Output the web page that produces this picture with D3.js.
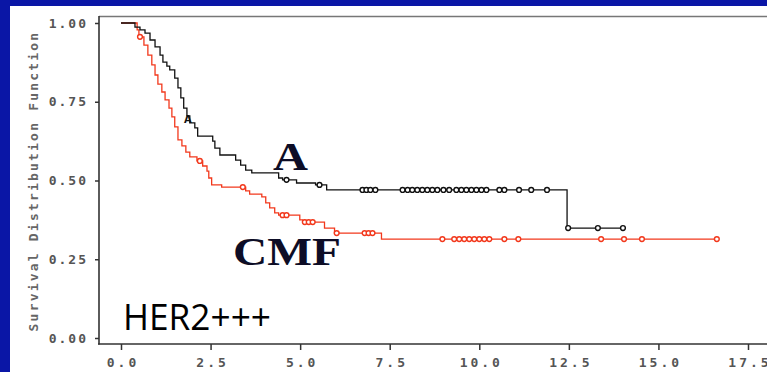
<!DOCTYPE html>
<html><head><meta charset="utf-8">
<script src="https://cdn.jsdelivr.net/npm/d3@7"></script>
<style>html,body{margin:0;padding:0;background:#fff;}svg{display:block;}</style>
</head><body>
<svg id="c" width="767" height="372"></svg>
<script>
// ---- data ----
const xTicks = [0, 2.5, 5, 7.5, 10, 12.5, 15, 17.5];
const xTickLabels = ["0.0","2.5","5.0","7.5","10.0","12.5","15.0","17.5"];
const yTicks = [0, 0.25, 0.5, 0.75, 1];
const yTickLabels = ["0.00","0.25","0.50","0.75","1.00"];

const aTimes = [0.39,0.53,0.67,0.81,0.95,1.09,1.17,1.28,1.36,1.50,1.59,1.67,1.75,1.84,1.92,2.06,2.14,2.56,2.62,2.76,3.20,3.34,3.48,3.65,4.40,4.51,4.90,5.43,5.74,12.45];
const aSurv  = [0.987,0.978,0.968,0.946,0.924,0.898,0.876,0.863,0.851,0.825,0.794,0.762,0.730,0.705,0.683,0.667,0.641,0.625,0.603,0.581,0.565,0.549,0.533,0.524,0.508,0.502,0.492,0.486,0.470,0.349];
const aEnd = 14.04;
const aCensor = [4.62,5.54,6.74,6.85,6.96,7.10,7.86,8.00,8.13,8.27,8.41,8.55,8.69,8.83,9.00,9.16,9.36,9.50,9.64,9.78,9.92,10.06,10.20,10.56,10.70,11.11,11.45,11.89,12.48,13.31,14.01];

const cTimes = [0.45,0.50,0.64,0.75,0.86,0.95,1.03,1.14,1.23,1.34,1.42,1.50,1.59,1.70,1.81,1.92,2.12,2.28,2.40,2.45,2.53,2.81,3.48,3.59,3.93,4.04,4.15,4.29,4.40,4.99,5.07,5.68,5.96,7.27];
const cSurv  = [0.978,0.956,0.930,0.898,0.867,0.835,0.806,0.781,0.756,0.730,0.702,0.670,0.629,0.610,0.590,0.575,0.562,0.546,0.530,0.508,0.486,0.479,0.467,0.457,0.448,0.429,0.413,0.397,0.390,0.375,0.368,0.349,0.333,0.314];
const cEnd = 16.63;
const cCensor = [0.53,2.20,3.40,4.51,4.62,5.13,5.24,5.35,6.02,6.80,6.91,7.02,8.97,9.30,9.44,9.58,9.72,9.86,10.00,10.14,10.28,10.70,11.09,13.40,14.04,14.54,16.63];

// ---- drawing ----
const svg = d3.select("#c");
const x = d3.scaleLinear().domain([0, 17.5]).range([121, 748]);
const y = d3.scaleLinear().domain([0, 1]).range([338, 23]);

// blue frame
svg.append("rect").attr("x",0).attr("y",0).attr("width",767).attr("height",6).attr("fill","#0a16a6");
svg.append("rect").attr("x",0).attr("y",0).attr("width",10).attr("height",372).attr("fill","#0a16a6");

// plot frame lines
const frame = svg.append("g").attr("stroke","#333").attr("stroke-width",1.6).attr("fill","none");
frame.append("line").attr("x1",99).attr("x2",767).attr("y1",16.5).attr("y2",16.5).attr("stroke","#777");
frame.append("line").attr("x1",99).attr("x2",99).attr("y1",16).attr("y2",344.5);
frame.append("line").attr("x1",98).attr("x2",767).attr("y1",344).attr("y2",344);

// axes
const yAxis = d3.axisLeft(y).tickValues(yTicks).tickSize(4).tickPadding(7)
  .tickFormat((d,i) => yTickLabels[i]);
const gy = svg.append("g").attr("transform","translate(99,0)").call(yAxis);
gy.select(".domain").remove();
gy.selectAll(".tick line").attr("stroke","#333").attr("stroke-width",1.5);
gy.selectAll(".tick text").attr("fill","#555").attr("font-family","DejaVu Sans Mono")
  .attr("font-size",13).attr("font-weight","bold").style("letter-spacing","2px");

const xAxis = d3.axisBottom(x).tickValues(xTicks).tickSize(6).tickPadding(8)
  .tickFormat((d,i) => xTickLabels[i]);
const gx = svg.append("g").attr("transform","translate(0,344)").call(xAxis);
gx.select(".domain").remove();
gx.selectAll(".tick line").attr("stroke","#333").attr("stroke-width",1.5);
gx.selectAll(".tick text").attr("fill","#555").attr("font-family","DejaVu Sans Mono")
  .attr("font-size",13).attr("font-weight","bold").attr("dx",1.5).style("letter-spacing","3px");

// y-axis title
svg.append("text").attr("transform","translate(38,181) rotate(-90)")
  .attr("text-anchor","middle").attr("fill","#666")
  .attr("font-family","DejaVu Sans Mono").attr("font-size",13).attr("font-weight","bold")
  .style("letter-spacing","2.2px")
  .text("Survival Distribution Function");

// step curves
function stepPoints(times, surv, end) {
  const pts = [[0,1]];
  times.forEach((t,i) => pts.push([t, surv[i]]));
  pts.push([end, surv[surv.length-1]]);
  return pts;
}
function survAt(times, surv, t) {
  let s = 1;
  for (let i = 0; i < times.length; i++) if (times[i] <= t) s = surv[i];
  return s;
}
const line = d3.line().x(d => x(d[0])).y(d => y(d[1])).curve(d3.curveStepAfter);

const series = [
  {times:cTimes, surv:cSurv, end:cEnd, censor:cCensor, color:"#f2381c"},
  {times:aTimes, surv:aSurv, end:aEnd, censor:aCensor, color:"#111"}
];
series.forEach(s => {
  svg.append("path").datum(stepPoints(s.times, s.surv, s.end))
    .attr("d", line).attr("fill","none").attr("stroke", s.color).attr("stroke-width",1.3);
  svg.append("g").selectAll("circle").data(s.censor).join("circle")
    .attr("cx", d => x(d)).attr("cy", d => y(survAt(s.times, s.surv, d)))
    .attr("r", 2.4).attr("fill","#fff").attr("stroke", s.color).attr("stroke-width",1.4);
});

// small SAS plot symbol on curve A
svg.append("text").attr("x", x(1.87)).attr("y", y(0.683)).attr("text-anchor","middle")
  .attr("font-family","DejaVu Sans").attr("font-size",10).attr("font-weight","bold").attr("fill","#111").text("A");

// labels
svg.append("text").attr("x",273).attr("y",170).attr("font-family","Liberation Serif")
  .attr("font-weight","bold").attr("font-size",40).attr("fill","#0d0d26")
  .attr("textLength",35).attr("lengthAdjust","spacingAndGlyphs").text("A");
svg.append("text").attr("x",233).attr("y",265).attr("font-family","Liberation Serif")
  .attr("font-weight","bold").attr("font-size",41).attr("fill","#0d0d26")
  .attr("textLength",108).attr("lengthAdjust","spacingAndGlyphs").text("CMF");
svg.append("text").attr("x",123).attr("y",330).attr("font-family","Open Sans")
  .attr("font-size",37).attr("fill","#000")
  .attr("textLength",148).attr("lengthAdjust","spacingAndGlyphs").text("HER2+++");
</script>
</body></html>
